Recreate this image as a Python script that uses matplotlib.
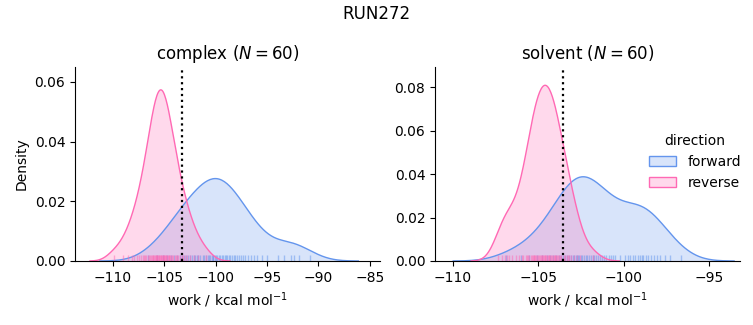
import numpy as np
import matplotlib
matplotlib.use("Agg")
import matplotlib.pyplot as plt
from matplotlib.patches import Patch

# ---------------- data ----------------
suptitle = "RUN272"
phases = ["complex", "solvent"]
directions = ["forward", "reverse"]
threshold = {"complex": -103.26, "solvent": -103.54}
xlims = {"complex": (-113.7, -84.0), "solvent": (-111.03, -93.2)}
ylims = {"complex": (0, 0.065), "solvent": (0, 0.0892)}
xticks = {"complex": [-110, -105, -100, -95, -90, -85],
          "solvent": [-110, -105, -100, -95]}
yticks = {"complex": [0.00, 0.02, 0.04, 0.06],
          "solvent": [0.00, 0.02, 0.04, 0.06, 0.08]}

complex_forward = [
    -106.64, -105.71, -105.10, -104.70, -104.38, -104.06, -103.74, -103.52, -103.31, -103.09,
    -102.88, -102.68, -102.52, -102.34, -102.16, -101.99, -101.83, -101.69, -101.54, -100.30,
    -101.24, -101.09, -100.94, -100.79, -100.65, -100.51, -100.38, -100.25, -100.10, -99.97,
    -99.84, -99.70, -99.55, -99.43, -99.28, -99.14, -99.01, -98.86, -98.70, -98.56,
    -98.39, -98.24, -98.09, -97.90, -97.71, -97.52, -97.32, -97.10, -96.83, -96.53,
    -96.24, -95.97, -95.50, -95.04, -92.40, -93.94, -93.34, -92.70, -91.93, -90.78,
]
complex_reverse = [
    -109.91, -109.01, -108.57, -108.15, -107.91, -107.70, -107.50, -107.30, -107.12, -107.01,
    -106.88, -106.76, -106.55, -106.46, -106.38, -106.30, -106.23, -106.15, -106.07, -106.00,
    -105.92, -105.86, -105.80, -105.73, -105.67, -105.60, -105.55, -105.48, -105.42, -105.35,
    -105.29, -105.23, -105.17, -105.12, -105.05, -104.99, -104.93, -104.87, -104.79, -104.73,
    -104.65, -104.58, -104.51, -104.44, -104.37, -104.26, -104.13, -103.97, -103.86, -103.75,
    -103.64, -103.50, -103.32, -103.16, -102.99, -102.75, -102.50, -102.16, -101.72, -100.95,
]
solvent_forward = [
    -106.86, -106.02, -105.53, -105.08, -104.79, -104.49, -104.28, -104.12, -103.95, -103.78,
    -103.64, -103.52, -103.41, -103.30, -103.18, -103.09, -102.99, -102.89, -102.80, -102.70,
    -102.60, -102.51, -102.41, -102.31, -102.22, -102.12, -102.02, -101.93, -101.82, -101.71,
    -101.60, -101.48, -101.37, -101.26, -101.15, -101.01, -100.88, -100.75, -100.62, -100.49,
    -102.66, -100.20, -98.95, -99.91, -99.76, -99.62, -99.47, -99.32, -99.17, -99.02,
    -98.87, -98.72, -98.56, -98.40, -98.22, -98.03, -97.85, -97.58, -97.28, -96.65,
]
solvent_reverse = [
    -107.35, -107.12, -106.95, -106.82, -106.68, -106.52, -106.30, -106.10, -105.96, -105.86,
    -105.73, -105.65, -105.58, -105.51, -105.42, -105.37, -105.31, -105.26, -105.22, -105.17,
    -105.11, -105.07, -105.01, -104.96, -104.91, -104.86, -104.80, -104.77, -104.71, -104.66,
    -104.62, -104.58, -104.52, -104.48, -104.44, -104.39, -104.34, -104.30, -104.25, -104.20,
    -104.16, -104.09, -104.04, -103.99, -103.94, -103.88, -103.83, -103.78, -103.72, -103.67,
    -103.51, -103.42, -103.34, -103.25, -103.17, -103.08, -102.92, -102.75, -102.55, -101.82,
]

data = {
    ("complex", "forward"): complex_forward,
    ("complex", "reverse"): complex_reverse,
    ("solvent", "forward"): solvent_forward,
    ("solvent", "reverse"): solvent_reverse,
}
colors = {"forward": "#6495ED", "reverse": "#FF69B4"}
n_total = sum(len(v) for v in data.values())


def kde_curve(values, n_total, gridsize=200, cut=3):
    x = np.asarray(values, dtype=float)
    n = x.size
    bw = x.std(ddof=1) * n ** (-1 / 5)
    grid = np.linspace(x.min() - cut * bw, x.max() + cut * bw, gridsize)
    dens = np.exp(-0.5 * ((grid[:, None] - x[None, :]) / bw) ** 2).sum(axis=1)
    dens /= (n * bw * np.sqrt(2 * np.pi))
    return grid, dens * n / n_total


fig = plt.figure(figsize=(7.53, 3.25), dpi=100)
ax_pos = {"complex": [75 / 753, 64 / 325, 305 / 753, 194 / 325],
          "solvent": [435 / 753, 64 / 325, 305 / 753, 194 / 325]}

for phase in phases:
    ax = fig.add_axes(ax_pos[phase])
    for d in directions:
        vals = data[(phase, d)]
        gx, gy = kde_curve(vals, n_total)
        ax.fill_between(gx, 0, gy, facecolor=colors[d], alpha=0.25, linewidth=0)
        ax.plot(gx, gy, color=colors[d], lw=1)
        ax.vlines(vals, 0, 0.03, transform=ax.get_xaxis_transform(),
                  color=colors[d], lw=1, alpha=0.5)
    ax.axvline(threshold[phase], color="black", linestyle=":", lw=1.6)
    ax.set_xlim(*xlims[phase])
    ax.set_ylim(*ylims[phase])
    ax.set_xticks(xticks[phase])
    ax.set_xticklabels([f"\u2212{abs(t)}" for t in xticks[phase]])
    ax.set_yticks(yticks[phase])
    ax.set_yticklabels([f"{t:.2f}" for t in yticks[phase]])
    n = len(data[(phase, "forward")])
    ax.set_title(f"{phase} ($N={n}$)", fontsize=12)
    ax.set_xlabel("work / kcal mol$^{-1}$", fontsize=10)
    if phase == "complex":
        ax.set_ylabel("Density", fontsize=10)
    ax.spines["top"].set_visible(False)
    ax.spines["right"].set_visible(False)

handles = [Patch(facecolor=matplotlib.colors.to_rgba(colors[d], 0.25),
                 edgecolor=colors[d], linewidth=1, label=d) for d in directions]
fig.legend(handles=handles, title="direction", loc="center left",
           bbox_to_anchor=(636 / 753, 1 - 162 / 325), frameon=False,
           fontsize=10, title_fontsize=10)
fig.suptitle(suptitle, fontsize=12, y=0.985)
fig.savefig("out.png", dpi=100)
